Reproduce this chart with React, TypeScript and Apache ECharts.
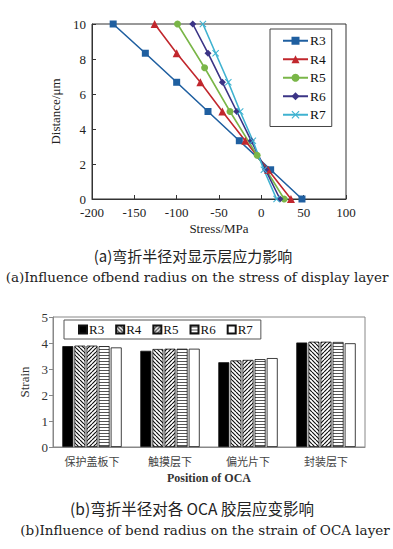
import React, { useEffect, useRef } from "react";
import * as echarts from "echarts";

// ---- Top chart data (stress vs distance) ----
const lineNames = ["R3", "R4", "R5", "R6", "R7"];
const distance7 = [10, 8.33, 6.67, 5, 3.33, 1.67, 0];
const distance5 = [10, 7.5, 5, 2.5, 0];
const stressR3 = [-175, -137, -100, -63, -26, 11, 48];
const stressR4 = [-126, -100, -72, -46, -19, 8, 35];
const stressR5 = [-99, -67, -37, -5, 27];
const stressR6 = [-81, -63, -46, -29, -12, 5, 22];
const stressR7 = [-69, -54, -39, -25, -10, 3, 18];
const xTicks = { min: -200, max: 100, interval: 50 };
const yTicks = { min: 0, max: 10, interval: 2 };

// ---- Bottom chart data (strain per OCA layer) ----
const positions = ["保护盖板下", "触摸层下", "偏光片下", "封装层下"];
const strainR3 = [3.88, 3.7, 3.26, 4.02];
const strainR4 = [3.9, 3.77, 3.33, 4.05];
const strainR5 = [3.9, 3.78, 3.35, 4.05];
const strainR6 = [3.88, 3.78, 3.38, 4.04];
const strainR7 = [3.83, 3.78, 3.42, 3.99];

const captionA_cn = "(a)弯折半径对显示层应力影响";
const captionA_en = "(a)Influence ofbend radius on the stress of display layer";
const captionB_cn = "(b)弯折半径对各 OCA 胶层应变影响";
const captionB_en = "(b)Influence of bend radius on the strain of OCA layer";

const FONT = '"Liberation Serif", "Noto Sans CJK SC", serif';
const CAP_FONT = '"DejaVu Serif", "Noto Sans CJK SC", serif';
const CJK_FONT = '"Noto Sans CJK SC", "Liberation Serif", serif';

function makePattern(kind: string) {
  const c = document.createElement("canvas");
  const s = kind === "h" ? 3 : 4;
  c.width = s;
  c.height = s;
  const ctx = c.getContext("2d")!;
  ctx.fillStyle = "#ffffff";
  ctx.fillRect(0, 0, s, s);
  ctx.strokeStyle = kind === "h" ? "#555" : "#111";
  ctx.lineWidth = kind === "h" ? 1 : 1.2;
  ctx.beginPath();
  if (kind === "h") {
    ctx.moveTo(0, 1.5);
    ctx.lineTo(s, 1.5);
  } else if (kind === "b") {
    for (const k of [-s, 0, s]) {
      ctx.moveTo(k, 0);
      ctx.lineTo(k + s, s);
    }
  } else {
    for (const k of [-s, 0, s]) {
      ctx.moveTo(k, s);
      ctx.lineTo(k + s, 0);
    }
  }
  ctx.stroke();
  return { image: c, repeat: "repeat", imageWidth: s, imageHeight: s } as any;
}

export default function App() {
  const ref = useRef<HTMLDivElement>(null);
  useEffect(() => {
    const chart = echarts.init(ref.current!, null, { renderer: "svg" });
    const colors = ["#1f5fa0", "#c1272d", "#7ab648", "#3b3486", "#3fb2d0"];
    const symbols = [
      "rect",
      "triangle",
      "circle",
      "diamond",
      "path://M0,1L1,0L5,4L9,0L10,1L6,5L10,9L9,10L5,6L1,10L0,9L4,5Z",
    ];
    const symSizes = [7, 8, 7, 7, 7];
    const lineData = [
      stressR3.map((v, i) => [v, distance7[i]]),
      stressR4.map((v, i) => [v, distance7[i]]),
      stressR5.map((v, i) => [v, distance5[i]]),
      stressR6.map((v, i) => [v, distance7[i]]),
      stressR7.map((v, i) => [v, distance7[i]]),
    ];
    const strains = [strainR3, strainR4, strainR5, strainR6, strainR7];
    const fills: any[] = [
      "#000000",
      makePattern("b"),
      makePattern("s"),
      makePattern("h"),
      "#ffffff",
    ];
    const barNames = ["R3", "R4", "R5", "R6", "R7"];

    const lineSeries = lineNames.map((n, i) => ({
      name: n,
      type: "line",
      xAxisIndex: 0,
      yAxisIndex: 0,
      data: lineData[i],
      symbol: symbols[i],
      symbolSize: symSizes[i],
      showAllSymbol: true,
      lineStyle: { color: colors[i], width: 1.6 },
      itemStyle: { color: colors[i] },
      z: 3,
    }));
    const barSeries = barNames.map((n, i) => ({
      name: n + " ",
      type: "bar",
      xAxisIndex: 1,
      yAxisIndex: 1,
      data: strains[i],
      barWidth: 11,
      barGap: "10%",
      itemStyle: { color: fills[i], borderColor: "#111", borderWidth: 0.8 },
    }));

    chart.setOption({
      animation: false,
      backgroundColor: "#ffffff",
      textStyle: { fontFamily: FONT },
      grid: [
        { left: 92, top: 24, width: 254, height: 175, show: true, borderColor: "#333", borderWidth: 1 },
        { left: 53, top: 317, width: 312, height: 130, show: true, borderColor: "#888", borderWidth: 1 },
      ],
      legend: [
        {
          data: lineNames,
          orient: "vertical",
          left: 270,
          top: 29,
          width: 68,
          padding: [5, 6, 5, 12],
          itemGap: 5,
          itemWidth: 25,
          itemHeight: 10,
          borderColor: "#444",
          borderWidth: 1,
          backgroundColor: "#fff",
          textStyle: { fontFamily: FONT, fontSize: 13.5, color: "#111", padding: [0, 0, 0, -3] },
        },
        {
          data: barNames.map((n) => n + " "),
          orient: "horizontal",
          left: 64,
          top: 320,
          padding: [3, 8, 3, 14],
          itemGap: 11,
          itemWidth: 8,
          itemHeight: 8,
          icon: "rect",
          borderColor: "#555",
          borderWidth: 1,
          backgroundColor: "#fff",
          formatter: (n: string) => n.trim(),
          textStyle: { fontFamily: FONT, fontSize: 13, color: "#111", padding: [0, 0, 0, -3] },
        },
      ],
      xAxis: [
        {
          type: "value",
          gridIndex: 0,
          min: xTicks.min,
          max: xTicks.max,
          interval: xTicks.interval,
          name: "Stress/MPa",
          nameLocation: "middle",
          nameGap: 23,
          nameTextStyle: { fontFamily: FONT, fontSize: 13, color: "#222" },
          axisLine: { onZero: false, lineStyle: { color: "#333" } },
          axisTick: { inside: true, length: 4, lineStyle: { color: "#333" } },
          axisLabel: { fontFamily: FONT, fontSize: 13, lineHeight: 11, color: "#222", margin: 8 },
          splitLine: { show: false },
        },
        {
          type: "category",
          gridIndex: 1,
          data: positions,
          name: "Position of OCA",
          nameLocation: "middle",
          nameGap: 25,
          nameTextStyle: { fontFamily: FONT, fontSize: 12, fontWeight: "bold", color: "#333" },
          axisLine: { lineStyle: { color: "#888" } },
          axisTick: { show: false },
          axisLabel: { fontFamily: CJK_FONT, fontSize: 11, color: "#444", margin: 8 },
        },
      ],
      yAxis: [
        {
          type: "value",
          gridIndex: 0,
          min: yTicks.min,
          max: yTicks.max,
          interval: yTicks.interval,
          name: "Distance/μm",
          nameLocation: "middle",
          nameGap: 30,
          nameTextStyle: { fontFamily: FONT, fontSize: 13, color: "#222" },
          axisLine: { onZero: false, show: true, lineStyle: { color: "#333" } },
          axisTick: { show: true, inside: true, length: 4, lineStyle: { color: "#333" } },
          axisLabel: { fontFamily: FONT, fontSize: 13, lineHeight: 11, color: "#222", margin: 6, verticalAlign: "middle", padding: [0, 0, 2, 0] },
          splitLine: { show: false },
        },
        {
          type: "value",
          gridIndex: 1,
          min: 0,
          max: 5,
          interval: 1,
          name: "Strain",
          nameLocation: "middle",
          nameGap: 20,
          nameTextStyle: { fontFamily: FONT, fontSize: 13, color: "#333" },
          axisLine: { show: true, lineStyle: { color: "#888" } },
          axisTick: { show: true, length: 4, lineStyle: { color: "#888" } },
          axisLabel: { fontFamily: FONT, fontSize: 13, color: "#333", margin: 5 },
          splitLine: { show: false },
        },
      ],
      series: [...lineSeries, ...barSeries],
      graphic: [
        { type: "text", x: 193, y: 255, style: { text: captionA_cn, font: `15px ${CJK_FONT}`, fill: "#222", align: "center", verticalAlign: "middle" } },
        { type: "text", x: 197, y: 277, style: { text: captionA_en, font: `13.5px ${CAP_FONT}`, fill: "#222", align: "center", verticalAlign: "middle" } },
        { type: "text", x: 192, y: 508, style: { text: captionB_cn, font: `15.5px ${CJK_FONT}`, fill: "#222", align: "center", verticalAlign: "middle" } },
        { type: "text", x: 205, y: 530, style: { text: captionB_en, font: `13.5px ${CAP_FONT}`, fill: "#222", align: "center", verticalAlign: "middle" } },
      ],
    });
    return () => chart.dispose();
  }, []);
  return (
    <div
      ref={ref}
      style={{ position: "fixed", left: 0, top: 0, width: 393, height: 549, background: "#fff" }}
    />
  );
}
